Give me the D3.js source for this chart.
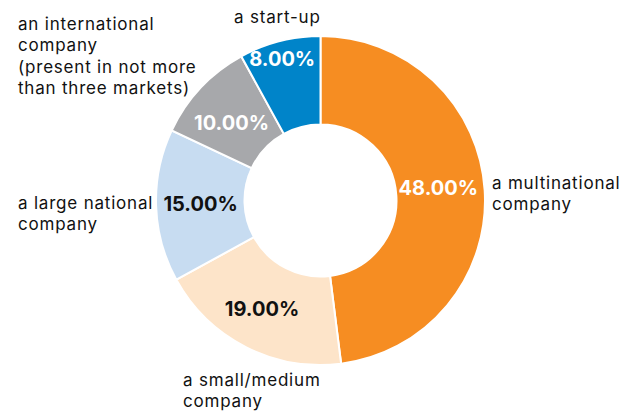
<!DOCTYPE html>
<html>
<head>
<meta charset="utf-8">
<script src="https://cdn.jsdelivr.net/npm/d3@7"></script>
<style>
  body { margin: 0; background: #fff; }
  svg text { font-family: Inter, "Noto Sans", sans-serif; }
</style>
</head>
<body>
<div class="chart"></div>
<script>
var categories = ["a multinational company", "a small/medium company", "a large national company",
                  "an international company (present in not more than three markets)", "a start-up"];
var values = [48, 19, 15, 10, 8];
var labelLines = [
  ["a multinational", "company"],
  ["a small/medium", "company"],
  ["a large national", "company"],
  ["an international", "company", "(present in not more", "than three markets)"],
  ["a start-up"]
];
var colors = ["#F68D22", "#FDE4C9", "#C7DCF1", "#A7A8AB", "#0084C9"];
var pctColors = ["#fff", "#111", "#111", "#fff", "#fff"];

var width = 625, height = 412;
var cx = 320.5, cy = 200.5, outerR = 164.5, innerR = 76;

var svg = d3.select(".chart").append("svg")
    .attr("width", width)
    .attr("height", height);

var g = svg.append("g")
    .attr("transform", "translate(" + cx + "," + cy + ")");

var data = categories.map(function(c, i) { return { name: c, value: values[i], i: i }; });

var pie = d3.pie().sort(null).value(function(d) { return d.value; });
var arc = d3.arc().innerRadius(innerR).outerRadius(outerR);
var arcs = pie(data);

g.selectAll(".slice")
  .data(arcs)
  .enter().append("path")
    .attr("class", "slice")
    .attr("d", arc)
    .style("fill", function(d) { return colors[d.data.i]; })
    .style("stroke", "#fff")
    .style("stroke-width", 2);

// percentage labels (the small start-up slice has its label pushed outward)
var pctRadius = [120, 120, 120, 120, 144];
var pctNudge = [[-2, -5], [-4, 1.5], [0, 0], [-1.5, 4], [-2.5, -2]];
g.selectAll(".pct")
  .data(arcs)
  .enter().append("text")
    .attr("class", "pct")
    .attr("transform", function(d) {
      var a = (d.startAngle + d.endAngle) / 2, r = pctRadius[d.data.i], n = pctNudge[d.data.i];
      return "translate(" + (r * Math.sin(a) + n[0]) + "," + (-r * Math.cos(a) + n[1]) + ")";
    })
    .attr("text-anchor", "middle")
    .attr("dy", "0.36em")
    .style("font-size", "20px")
    .style("font-weight", "bold")
    .style("fill", function(d) { return pctColors[d.data.i]; })
    .text(function(d) { return d.data.value.toFixed(2) + "%"; });

// category labels
var labelPos = [[492, 189], [183, 386], [18, 209], [18, 30], [234, 23]];
var lineH = 21.3;
labelLines.forEach(function(lines, i) {
  var t = svg.append("text")
    .attr("x", labelPos[i][0])
    .attr("y", labelPos[i][1])
    .style("font-size", "17px")
    .style("letter-spacing", "0.8px")
    .style("fill", "#111");
  lines.forEach(function(l, k) {
    t.append("tspan")
      .attr("x", labelPos[i][0])
      .attr("dy", k === 0 ? 0 : lineH)
      .text(l);
  });
});
</script>
</body>
</html>
